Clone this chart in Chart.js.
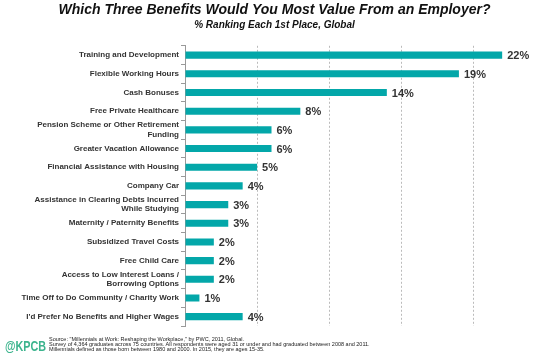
<!DOCTYPE html>
<html>
<head>
<meta charset="utf-8">
<script src="https://cdn.jsdelivr.net/npm/chart.js@4/dist/chart.umd.min.js"></script>
<style>
  html, body { margin: 0; padding: 0; background: #fff; }
  #wrap { position: relative; width: 533px; height: 363px; }
  #kpcb { position: absolute; left: 5px; top: 338px; font: bold 15px/15px "Liberation Sans", Arial, sans-serif; color: #3db48e; transform: scaleX(0.72); transform-origin: left top; }
  #src { position: absolute; left: 49px; top: 337px; font: 5.5px/5px "Liberation Sans", Arial, sans-serif; color: #222; }
</style>
</head>
<body>
<div id="wrap">
  <canvas id="chart" width="533" height="363"></canvas>
  <div id="kpcb">@KPCB</div>
  <div id="src">Source: "Millennials at Work: Reshaping the Workplace," by PWC, 2011, Global.<br>Survey of 4,364 graduates across 75 countries. All respondents were aged 31 or under and had graduated between 2008 and 2011.<br>Millennials defined as those born between 1980 and 2000. In 2015, they are ages 15-35.</div>
</div>
<script>
const BENEFITS = [
    'Training and Development',
    'Flexible Working Hours',
    'Cash Bonuses',
    'Free Private Healthcare',
    ['Pension Scheme or Other Retirement', 'Funding'],
    'Greater Vacation Allowance',
    'Financial Assistance with Housing',
    'Company Car',
    ['Assistance in Clearing Debts Incurred', 'While Studying'],
    'Maternity / Paternity Benefits',
    'Subsidized Travel Costs',
    'Free Child Care',
    ['Access to Low Interest Loans /', 'Borrowing Options'],
    'Time Off to Do Community / Charity Work',
    "I'd Prefer No Benefits and Higher Wages",
];
const PCT_FIRST = [22, 19, 14, 8, 6, 6, 5, 4, 3, 3, 2, 2, 2, 1, 4];

const FONT = '"Liberation Sans", Arial, sans-serif';

// percent labels at the end of each bar
const barLabels = {
    id: 'barLabels',
    afterDatasetsDraw(chart) {
        const ctx = chart.ctx;
        const meta = chart.getDatasetMeta(0);
        ctx.save();
        ctx.font = 'bold 11px ' + FONT;
        ctx.fillStyle = '#333';
        ctx.textBaseline = 'middle';
        ctx.textAlign = 'left';
        meta.data.forEach((bar, i) => {
            ctx.fillText(PCT_FIRST[i] + '%', bar.x + 5, bar.y + 1);
        });
        ctx.restore();
    }
};

new Chart(document.getElementById('chart'), {
    type: 'bar',
    data: {
        labels: BENEFITS,
        datasets: [{
            data: PCT_FIRST,
            backgroundColor: '#03a7a9',
            categoryPercentage: 1,
            barPercentage: 0.38,
        }]
    },
    options: {
        indexAxis: 'y',
        responsive: false,
        animation: false,
        layout: { padding: { left: 18, right: 2, top: 0, bottom: 37 } },
        scales: {
            x: {
                min: 0,
                max: 24,
                ticks: { display: false, stepSize: 5 },
                border: { display: false, dash: [2, 2] },
                grid: {
                    drawTicks: false,
                    color: c => c.tick && c.tick.value > 0 && c.tick.value % 5 === 0 ? '#bbb' : 'rgba(0,0,0,0)',
                },
            },
            y: {
                afterFit: axis => { axis.width = 167; },
                border: { color: '#999' },
                grid: { drawOnChartArea: false, tickLength: 4, color: '#999' },
                ticks: {
                    autoSkip: false,
                    padding: 2,
                    color: '#333',
                    font: { family: FONT, size: 8, weight: 'bold', lineHeight: 1.15 },
                },
            },
        },
        plugins: {
            legend: { display: false },
            tooltip: { enabled: false },
            title: {
                display: true,
                text: 'Which Three Benefits Would You Most Value From an Employer?',
                color: '#111',
                font: { family: FONT, size: 14, weight: 'bold', style: 'italic' },
                padding: { top: 2, bottom: 0 },
            },
            subtitle: {
                display: true,
                text: '% Ranking Each 1st Place, Global',
                color: '#111',
                font: { family: FONT, size: 10, weight: 'bold', style: 'italic' },
                padding: { top: 0, bottom: 15 },
            },
        },
    },
    plugins: [barLabels],
});
</script>
</body>
</html>
